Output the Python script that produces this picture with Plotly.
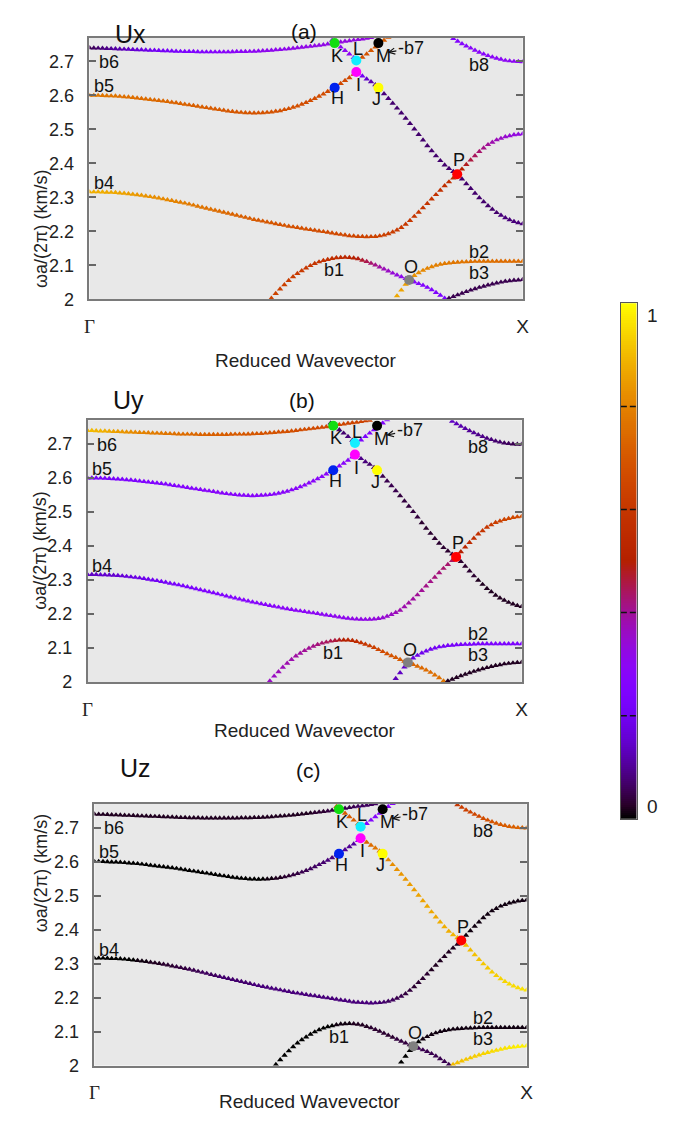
import numpy as np
import plotly.graph_objects as go

# ---------------- data ----------------
# reduced wavevector samples, Gamma (0) -> X (1)
K_GRID = [0.00, 0.01, 0.02, 0.03, 0.04, 0.05, 0.06, 0.07, 0.08, 0.09,
          0.10, 0.11, 0.12, 0.13, 0.14, 0.15, 0.16, 0.17, 0.18, 0.19,
          0.20, 0.21, 0.22, 0.23, 0.24, 0.25, 0.26, 0.27, 0.28, 0.29,
          0.30, 0.31, 0.32, 0.33, 0.34, 0.35, 0.36, 0.37, 0.38, 0.39,
          0.40, 0.41, 0.42, 0.43, 0.44, 0.45, 0.46, 0.47, 0.48, 0.49,
          0.50, 0.51, 0.52, 0.53, 0.54, 0.55, 0.56, 0.57, 0.58, 0.59,
          0.60, 0.61, 0.62, 0.63, 0.64, 0.65, 0.66, 0.67, 0.68, 0.69,
          0.70, 0.71, 0.72, 0.73, 0.74, 0.75, 0.76, 0.77, 0.78, 0.79,
          0.80, 0.81, 0.82, 0.83, 0.84, 0.85, 0.86, 0.87, 0.88, 0.89,
          0.90, 0.91, 0.92, 0.93, 0.94, 0.95, 0.96, 0.97, 0.98, 0.99,
          1.00]

# band b6 (Gamma -> K -> top edge)
B6_START = 0
B6_F = [2.7400, 2.7395, 2.7390, 2.7385, 2.7380, 2.7375, 2.7370, 2.7365, 2.7360, 2.7355,
        2.7350, 2.7345, 2.7340, 2.7335, 2.7330, 2.7325, 2.7320, 2.7315, 2.7310, 2.7305,
        2.7300, 2.7295, 2.7290, 2.7290, 2.7290, 2.7285, 2.7280, 2.7280, 2.7280, 2.7280,
        2.7280, 2.7280, 2.7280, 2.7285, 2.7290, 2.7290, 2.7290, 2.7295, 2.7300, 2.7305,
        2.7310, 2.7320, 2.7330, 2.7340, 2.7350, 2.7360, 2.7370, 2.7385, 2.7400, 2.7415,
        2.7430, 2.7445, 2.7460, 2.7475, 2.7490, 2.7510, 2.7530, 2.7550, 2.7570, 2.7590,
        2.7610, 2.7625, 2.7640, 2.7660, 2.7680, 2.7700]
B6_UX = [0.05, 0.06, 0.07, 0.08, 0.09, 0.10, 0.11, 0.12, 0.13, 0.14,
         0.15, 0.16, 0.17, 0.18, 0.19, 0.20, 0.21, 0.21, 0.22, 0.22,
         0.23, 0.23, 0.24, 0.24, 0.25, 0.25, 0.26, 0.26, 0.27, 0.27,
         0.28, 0.28, 0.28, 0.29, 0.29, 0.29, 0.30, 0.30, 0.30, 0.30,
         0.31, 0.31, 0.31, 0.31, 0.31, 0.31, 0.32, 0.32, 0.32, 0.32,
         0.32, 0.32, 0.32, 0.32, 0.32, 0.32, 0.33, 0.33, 0.33, 0.33,
         0.33, 0.33, 0.33, 0.33, 0.33, 0.33]
B6_UY = [0.90, 0.90, 0.89, 0.89, 0.88, 0.87, 0.86, 0.85, 0.84, 0.83,
         0.82, 0.81, 0.80, 0.80, 0.79, 0.79, 0.78, 0.78, 0.77, 0.77,
         0.76, 0.76, 0.75, 0.75, 0.74, 0.74, 0.73, 0.73, 0.72, 0.72,
         0.72, 0.72, 0.71, 0.71, 0.71, 0.71, 0.70, 0.70, 0.70, 0.70,
         0.69, 0.69, 0.69, 0.69, 0.68, 0.68, 0.68, 0.68, 0.67, 0.67,
         0.67, 0.67, 0.66, 0.66, 0.66, 0.66, 0.65, 0.65, 0.65, 0.65,
         0.64, 0.64, 0.64, 0.64, 0.63, 0.63]
B6_UZ = [0.02, 0.02, 0.02, 0.02, 0.02, 0.02, 0.02, 0.02, 0.02, 0.02,
         0.02, 0.02, 0.02, 0.02, 0.02, 0.02, 0.02, 0.02, 0.02, 0.02,
         0.02, 0.02, 0.02, 0.02, 0.02, 0.02, 0.02, 0.02, 0.02, 0.02,
         0.02, 0.02, 0.02, 0.02, 0.02, 0.02, 0.02, 0.02, 0.02, 0.02,
         0.02, 0.02, 0.02, 0.02, 0.02, 0.02, 0.02, 0.02, 0.02, 0.02,
         0.02, 0.03, 0.03, 0.03, 0.04, 0.04, 0.04, 0.05, 0.05, 0.05,
         0.05, 0.06, 0.06, 0.06, 0.06, 0.06]

# band b5: Gamma -> H -> I, then down through J and P to X
B5_START = 0
B5_F = [2.6000, 2.6000, 2.6000, 2.5995, 2.5990, 2.5985, 2.5980, 2.5970, 2.5960, 2.5950,
        2.5940, 2.5925, 2.5910, 2.5895, 2.5880, 2.5865, 2.5850, 2.5835, 2.5820, 2.5800,
        2.5780, 2.5760, 2.5740, 2.5720, 2.5700, 2.5680, 2.5660, 2.5640, 2.5620, 2.5600,
        2.5580, 2.5560, 2.5540, 2.5525, 2.5510, 2.5500, 2.5490, 2.5485, 2.5480, 2.5485,
        2.5490, 2.5500, 2.5510, 2.5530, 2.5550, 2.5580, 2.5610, 2.5650, 2.5690, 2.5740,
        2.5790, 2.5850, 2.5910, 2.5975, 2.6040, 2.6115, 2.6190, 2.6270, 2.6350, 2.6435,
        2.6520, 2.6620, 2.6660, 2.6570, 2.6480, 2.6400, 2.6310, 2.6190, 2.6050, 2.5910,
        2.5770, 2.5625, 2.5480, 2.5325, 2.5170, 2.5010, 2.4850, 2.4685, 2.4520, 2.4370,
        2.4220, 2.4080, 2.3950, 2.3850, 2.3760, 2.3660, 2.3540, 2.3400, 2.3260, 2.3120,
        2.2990, 2.2870, 2.2750, 2.2650, 2.2550, 2.2470, 2.2400, 2.2340, 2.2290, 2.2250,
        2.2220]
B5_UX = [0.78, 0.78, 0.78, 0.77, 0.77, 0.77, 0.77, 0.76, 0.76, 0.76,
         0.76, 0.75, 0.75, 0.75, 0.75, 0.74, 0.74, 0.74, 0.74, 0.73,
         0.73, 0.73, 0.73, 0.72, 0.72, 0.72, 0.72, 0.71, 0.71, 0.71,
         0.71, 0.70, 0.70, 0.70, 0.70, 0.70, 0.70, 0.69, 0.69, 0.69,
         0.69, 0.69, 0.69, 0.68, 0.68, 0.68, 0.68, 0.68, 0.68, 0.67,
         0.67, 0.67, 0.67, 0.67, 0.67, 0.66, 0.66, 0.66, 0.66, 0.66,
         0.66, 0.60, 0.35, 0.20, 0.15, 0.12, 0.10, 0.09, 0.08, 0.08,
         0.07, 0.07, 0.07, 0.07, 0.07, 0.07, 0.07, 0.07, 0.07, 0.07,
         0.07, 0.07, 0.07, 0.07, 0.07, 0.07, 0.07, 0.07, 0.07, 0.07,
         0.07, 0.07, 0.07, 0.07, 0.07, 0.08, 0.08, 0.08, 0.08, 0.08,
         0.08]
B5_UY = [0.22, 0.22, 0.22, 0.22, 0.23, 0.23, 0.23, 0.23, 0.24, 0.24,
         0.24, 0.24, 0.25, 0.25, 0.25, 0.25, 0.26, 0.26, 0.26, 0.26,
         0.26, 0.27, 0.27, 0.27, 0.27, 0.27, 0.27, 0.28, 0.28, 0.28,
         0.28, 0.28, 0.28, 0.28, 0.28, 0.28, 0.28, 0.28, 0.28, 0.28,
         0.28, 0.28, 0.28, 0.28, 0.28, 0.28, 0.28, 0.28, 0.28, 0.28,
         0.28, 0.28, 0.28, 0.28, 0.28, 0.28, 0.28, 0.28, 0.28, 0.28,
         0.28, 0.25, 0.12, 0.09, 0.08, 0.07, 0.06, 0.06, 0.05, 0.05,
         0.05, 0.05, 0.04, 0.04, 0.04, 0.04, 0.04, 0.03, 0.03, 0.03,
         0.03, 0.03, 0.03, 0.03, 0.03, 0.03, 0.03, 0.03, 0.03, 0.03,
         0.02, 0.02, 0.02, 0.02, 0.02, 0.02, 0.02, 0.02, 0.02, 0.02,
         0.02]
B5_UZ = [0.00, 0.00, 0.00, 0.00, 0.00, 0.00, 0.00, 0.00, 0.00, 0.00,
         0.00, 0.00, 0.00, 0.00, 0.00, 0.00, 0.00, 0.00, 0.00, 0.00,
         0.00, 0.00, 0.00, 0.00, 0.00, 0.00, 0.00, 0.00, 0.00, 0.00,
         0.00, 0.00, 0.00, 0.00, 0.00, 0.00, 0.00, 0.00, 0.00, 0.00,
         0.01, 0.01, 0.02, 0.02, 0.03, 0.03, 0.04, 0.04, 0.05, 0.05,
         0.06, 0.06, 0.07, 0.07, 0.08, 0.08, 0.09, 0.09, 0.10, 0.10,
         0.11, 0.30, 0.70, 0.73, 0.75, 0.77, 0.79, 0.80, 0.81, 0.82,
         0.83, 0.84, 0.84, 0.85, 0.85, 0.86, 0.86, 0.87, 0.87, 0.87,
         0.88, 0.88, 0.88, 0.89, 0.89, 0.89, 0.90, 0.90, 0.91, 0.91,
         0.92, 0.92, 0.93, 0.93, 0.94, 0.94, 0.95, 0.95, 0.95, 0.96,
         0.96]

# band b4: Gamma -> minimum -> up through P to X
B4_START = 0
B4_F = [2.3160, 2.3160, 2.3160, 2.3155, 2.3150, 2.3145, 2.3140, 2.3130, 2.3120, 2.3105,
        2.3090, 2.3075, 2.3060, 2.3040, 2.3020, 2.3000, 2.2980, 2.2955, 2.2930, 2.2905,
        2.2880, 2.2855, 2.2830, 2.2800, 2.2770, 2.2740, 2.2710, 2.2680, 2.2650, 2.2620,
        2.2590, 2.2560, 2.2530, 2.2500, 2.2470, 2.2440, 2.2410, 2.2380, 2.2350, 2.2325,
        2.2300, 2.2275, 2.2250, 2.2225, 2.2200, 2.2175, 2.2150, 2.2130, 2.2110, 2.2090,
        2.2070, 2.2050, 2.2030, 2.2010, 2.1990, 2.1970, 2.1950, 2.1930, 2.1910, 2.1890,
        2.1870, 2.1860, 2.1850, 2.1845, 2.1840, 2.1843, 2.1850, 2.1865, 2.1890, 2.1930,
        2.1980, 2.2040, 2.2110, 2.2210, 2.2320, 2.2440, 2.2560, 2.2690, 2.2820, 2.2950,
        2.3080, 2.3210, 2.3340, 2.3455, 2.3570, 2.3700, 2.3830, 2.3965, 2.4100, 2.4225,
        2.4350, 2.4450, 2.4550, 2.4620, 2.4690, 2.4735, 2.4780, 2.4810, 2.4840, 2.4855,
        2.4870]
B4_UX = [0.88, 0.88, 0.88, 0.88, 0.87, 0.87, 0.87, 0.86, 0.86, 0.85,
         0.85, 0.84, 0.84, 0.83, 0.83, 0.82, 0.82, 0.81, 0.81, 0.80,
         0.80, 0.79, 0.79, 0.78, 0.78, 0.77, 0.77, 0.76, 0.76, 0.75,
         0.75, 0.74, 0.74, 0.73, 0.73, 0.72, 0.72, 0.71, 0.71, 0.70,
         0.70, 0.70, 0.70, 0.69, 0.69, 0.69, 0.69, 0.68, 0.68, 0.68,
         0.68, 0.67, 0.67, 0.67, 0.67, 0.66, 0.66, 0.66, 0.66, 0.65,
         0.65, 0.65, 0.65, 0.64, 0.64, 0.64, 0.64, 0.63, 0.63, 0.62,
         0.62, 0.61, 0.61, 0.60, 0.60, 0.60, 0.60, 0.59, 0.59, 0.59,
         0.58, 0.58, 0.57, 0.57, 0.56, 0.53, 0.50, 0.48, 0.46, 0.44,
         0.43, 0.41, 0.40, 0.38, 0.37, 0.36, 0.35, 0.34, 0.33, 0.33,
         0.32]
B4_UY = [0.14, 0.14, 0.14, 0.15, 0.15, 0.15, 0.15, 0.16, 0.16, 0.17,
         0.17, 0.18, 0.18, 0.19, 0.19, 0.20, 0.20, 0.21, 0.21, 0.22,
         0.22, 0.23, 0.23, 0.23, 0.23, 0.24, 0.24, 0.25, 0.25, 0.25,
         0.25, 0.26, 0.26, 0.26, 0.26, 0.27, 0.27, 0.27, 0.27, 0.28,
         0.28, 0.28, 0.28, 0.28, 0.28, 0.29, 0.29, 0.29, 0.29, 0.29,
         0.29, 0.30, 0.30, 0.30, 0.30, 0.30, 0.30, 0.31, 0.31, 0.31,
         0.31, 0.32, 0.32, 0.32, 0.32, 0.33, 0.33, 0.34, 0.34, 0.35,
         0.36, 0.37, 0.38, 0.38, 0.39, 0.39, 0.40, 0.40, 0.41, 0.41,
         0.42, 0.42, 0.43, 0.43, 0.44, 0.47, 0.50, 0.53, 0.55, 0.57,
         0.58, 0.59, 0.60, 0.61, 0.62, 0.63, 0.64, 0.65, 0.66, 0.66,
         0.67]
B4_UZ = [0.00, 0.00, 0.00, 0.00, 0.00, 0.00, 0.00, 0.00, 0.00, 0.00,
         0.01, 0.01, 0.01, 0.02, 0.02, 0.02, 0.03, 0.03, 0.03, 0.04,
         0.04, 0.04, 0.05, 0.05, 0.05, 0.06, 0.06, 0.06, 0.06, 0.07,
         0.07, 0.07, 0.07, 0.07, 0.07, 0.07, 0.07, 0.08, 0.08, 0.08,
         0.08, 0.08, 0.08, 0.08, 0.08, 0.08, 0.08, 0.08, 0.08, 0.08,
         0.08, 0.08, 0.08, 0.08, 0.08, 0.08, 0.08, 0.08, 0.08, 0.08,
         0.08, 0.08, 0.08, 0.08, 0.08, 0.08, 0.07, 0.07, 0.06, 0.06,
         0.05, 0.05, 0.04, 0.04, 0.03, 0.03, 0.03, 0.03, 0.02, 0.02,
         0.02, 0.02, 0.02, 0.02, 0.02, 0.01, 0.01, 0.01, 0.01, 0.01,
         0.01, 0.01, 0.01, 0.01, 0.01, 0.01, 0.01, 0.01, 0.01, 0.01,
         0.01]

# b6/b7 branch through K, L and M
B7_START = 56
B7_F = [2.762, 2.752, 2.742, 2.732, 2.722, 2.711, 2.705, 2.712, 2.722, 2.732,
        2.742, 2.752, 2.762, 2.771]
B7_UX = [0.30, 0.30, 0.30, 0.30, 0.30, 0.30, 0.50, 0.68, 0.69, 0.70,
         0.70, 0.71, 0.71, 0.71]
B7_UY = [0.06, 0.06, 0.07, 0.07, 0.08, 0.08, 0.15, 0.24, 0.24, 0.25,
         0.25, 0.26, 0.26, 0.26]
B7_UZ = [0.70, 0.70, 0.71, 0.71, 0.72, 0.72, 0.45, 0.26, 0.26, 0.27,
         0.27, 0.28, 0.28, 0.28]

# band b1
B1_START = 42
B1_F = [2.0030, 2.0170, 2.0300, 2.0430, 2.0550, 2.0660, 2.0760, 2.0840, 2.0920, 2.0990,
        2.1050, 2.1100, 2.1140, 2.1170, 2.1200, 2.1220, 2.1230, 2.1235, 2.1230, 2.1215,
        2.1190, 2.1150, 2.1110, 2.1060, 2.1010, 2.0950, 2.0890, 2.0830, 2.0770, 2.0715,
        2.0660, 2.0610, 2.0560, 2.0510, 2.0460, 2.0410, 2.0350, 2.0280, 2.0200, 2.0120,
        2.0030]
B1_UX = [0.64, 0.64, 0.63, 0.63, 0.62, 0.62, 0.61, 0.61, 0.60, 0.60,
         0.59, 0.59, 0.58, 0.58, 0.57, 0.56, 0.55, 0.54, 0.52, 0.51,
         0.49, 0.47, 0.45, 0.43, 0.41, 0.39, 0.37, 0.36, 0.34, 0.33,
         0.31, 0.30, 0.28, 0.27, 0.26, 0.26, 0.25, 0.25, 0.24, 0.24,
         0.23]
B1_UY = [0.36, 0.36, 0.37, 0.37, 0.38, 0.38, 0.39, 0.39, 0.40, 0.40,
         0.41, 0.42, 0.43, 0.44, 0.45, 0.46, 0.48, 0.50, 0.52, 0.54,
         0.56, 0.58, 0.60, 0.62, 0.63, 0.65, 0.66, 0.68, 0.69, 0.70,
         0.71, 0.72, 0.73, 0.73, 0.74, 0.74, 0.75, 0.75, 0.76, 0.76,
         0.77]
B1_UZ = [0.00, 0.00, 0.00, 0.00, 0.00, 0.00, 0.00, 0.00, 0.00, 0.00,
         0.00, 0.00, 0.00, 0.00, 0.01, 0.01, 0.01, 0.01, 0.02, 0.02,
         0.02, 0.02, 0.03, 0.03, 0.03, 0.03, 0.03, 0.03, 0.04, 0.04,
         0.04, 0.04, 0.05, 0.05, 0.05, 0.05, 0.05, 0.05, 0.05, 0.05,
         0.05]

# band b2
B2_START = 71
B2_F = [2.0100, 2.0270, 2.0440, 2.0590, 2.0700, 2.0780, 2.0850, 2.0910, 2.0960, 2.1000,
        2.1030, 2.1050, 2.1070, 2.1080, 2.1090, 2.1100, 2.1105, 2.1110, 2.1115, 2.1120,
        2.1120, 2.1120, 2.1120, 2.1120, 2.1120, 2.1120, 2.1120, 2.1120, 2.1120, 2.1120]
B2_UX = [0.87, 0.86, 0.85, 0.84, 0.83, 0.82, 0.81, 0.80, 0.80, 0.79,
         0.79, 0.78, 0.78, 0.77, 0.77, 0.77, 0.77, 0.76, 0.76, 0.76,
         0.76, 0.76, 0.76, 0.75, 0.75, 0.75, 0.75, 0.75, 0.75, 0.75]
B2_UY = [0.13, 0.14, 0.15, 0.16, 0.17, 0.18, 0.19, 0.19, 0.20, 0.20,
         0.21, 0.21, 0.22, 0.22, 0.22, 0.22, 0.23, 0.23, 0.23, 0.23,
         0.23, 0.23, 0.24, 0.24, 0.24, 0.24, 0.24, 0.24, 0.24, 0.24]
B2_UZ = [0.00, 0.00, 0.00, 0.00, 0.00, 0.01, 0.01, 0.01, 0.01, 0.01,
         0.01, 0.01, 0.01, 0.01, 0.01, 0.01, 0.01, 0.01, 0.01, 0.01,
         0.01, 0.01, 0.01, 0.01, 0.01, 0.01, 0.01, 0.01, 0.01, 0.01]

# band b3
B3_START = 83
B3_F = [2.0030, 2.0080, 2.0130, 2.0180, 2.0225, 2.0270, 2.0310, 2.0350, 2.0385, 2.0420,
        2.0450, 2.0480, 2.0505, 2.0530, 2.0545, 2.0560, 2.0570, 2.0580]
B3_UX = [0.05, 0.05, 0.05, 0.05, 0.05, 0.05, 0.05, 0.05, 0.05, 0.05,
         0.05, 0.05, 0.05, 0.05, 0.05, 0.05, 0.05, 0.05]
B3_UY = [0.02, 0.02, 0.02, 0.02, 0.02, 0.02, 0.02, 0.02, 0.02, 0.02,
         0.02, 0.02, 0.02, 0.02, 0.02, 0.02, 0.02, 0.02]
B3_UZ = [0.90, 0.91, 0.91, 0.92, 0.92, 0.93, 0.93, 0.94, 0.94, 0.95,
         0.95, 0.96, 0.96, 0.97, 0.97, 0.98, 0.98, 0.98]

# band b8
B8_START = 84
B8_F = [2.7670, 2.7595, 2.7520, 2.7455, 2.7390, 2.7330, 2.7270, 2.7220, 2.7170, 2.7130,
        2.7090, 2.7060, 2.7030, 2.7015, 2.7000, 2.6995, 2.6990]
B8_UX = [0.26, 0.26, 0.27, 0.27, 0.28, 0.28, 0.28, 0.28, 0.29, 0.29,
         0.29, 0.29, 0.30, 0.30, 0.30, 0.30, 0.30]
B8_UY = [0.14, 0.13, 0.12, 0.11, 0.10, 0.10, 0.09, 0.09, 0.08, 0.08,
         0.07, 0.07, 0.06, 0.06, 0.05, 0.05, 0.05]
B8_UZ = [0.60, 0.62, 0.63, 0.64, 0.65, 0.66, 0.67, 0.68, 0.69, 0.70,
         0.71, 0.71, 0.72, 0.72, 0.73, 0.73, 0.74]

# highlighted points
POINT_NAMES = ['K', 'L', 'M', 'H', 'I', 'J', 'P', 'O']
POINT_K = [0.566, 0.616, 0.667, 0.566, 0.616, 0.667, 0.849, 0.738]
POINT_F = [2.754, 2.703, 2.754, 2.623, 2.669, 2.623, 2.368, 2.057]
POINT_COLORS = ['#11dd11', '#11eeff', '#000000', '#0022ee', '#ff00ff', '#ffff00', '#ff0000', '#808080']

# text labels inside the panels
LABEL_TEXT = ['K', 'L', 'M', 'H', 'I', 'J', 'P', 'O', 'b1', 'b2', 'b3', 'b4', 'b5', 'b6', 'b8']
LABEL_K = [0.572, 0.620, 0.678, 0.572, 0.620, 0.663, 0.854, 0.742, 0.565, 0.899, 0.899, 0.033, 0.033, 0.045, 0.899]
LABEL_F = [2.717, 2.737, 2.716, 2.591, 2.630, 2.589, 2.409, 2.095, 2.085, 2.140, 2.079, 2.341, 2.627, 2.698, 2.691]
B7_LABEL = '-b7'
B7_LABEL_K, B7_LABEL_F = 0.742, 2.740
B7_ARROW_K, B7_ARROW_F = 0.688, 2.726

PANEL_TITLES = ['Ux', 'Uy', 'Uz']
PANEL_TAGS = ['(a)', '(b)', '(c)']

Y_TICK_VALS = [2.0, 2.1, 2.2, 2.3, 2.4, 2.5, 2.6, 2.7]
Y_TICK_TEXT = ['2', '2.1', '2.2', '2.3', '2.4', '2.5', '2.6', '2.7']
X_TICK_VALS = [0, 1]
X_TICK_TEXT = ['<span style="font-family:\'Liberation Serif\'">\u0393</span>', 'X']
Y_TITLE = '\u03c9a/(2\u03c0) (km/s)'
X_TITLE = 'Reduced Wavevector'
CB_TICKS = [0.2, 0.4, 0.6, 0.8]

BANDS = [
    (B6_START, B6_F, [B6_UX, B6_UY, B6_UZ]),
    (B5_START, B5_F, [B5_UX, B5_UY, B5_UZ]),
    (B4_START, B4_F, [B4_UX, B4_UY, B4_UZ]),
    (B7_START, B7_F, [B7_UX, B7_UY, B7_UZ]),
    (B1_START, B1_F, [B1_UX, B1_UY, B1_UZ]),
    (B2_START, B2_F, [B2_UX, B2_UY, B2_UZ]),
    (B3_START, B3_F, [B3_UX, B3_UY, B3_UZ]),
    (B8_START, B8_F, [B8_UX, B8_UY, B8_UZ]),
]

# ---------------- styling / layout ----------------
W, H = 675, 1140
PANEL_X = [(86, 527), (84, 526), (91, 531)]
PANEL_Y = [(38, 302), (424, 688), (811, 1075)]
CB_X = (627, 643)
CB_Y = (306, 826)
FONT = 'Liberation Sans'


def gnuplot_rgb(v):
    r = np.sqrt(v)
    g = v ** 3
    b = max(0.0, np.sin(2 * np.pi * v))
    return 'rgb(%d,%d,%d)' % (round(255 * r), round(255 * g), round(255 * b))


CS = [[float(v), gnuplot_rgb(float(v))] for v in np.linspace(0, 1, 41)]

fig = go.Figure()
annotations = []
shapes = []
layout = {}

for p in range(3):
    sfx = '' if p == 0 else str(p + 1)
    xa, ya = 'x' + sfx, 'y' + sfx
    for start, freqs, comps in BANDS:
        ks = K_GRID[start:start + len(freqs)]
        fig.add_trace(go.Scatter(
            x=ks, y=freqs, mode='markers', xaxis=xa, yaxis=ya,
            marker=dict(symbol='triangle-up', size=5.6, color=comps[p], colorscale=CS,
                        cmin=0, cmax=1, line=dict(width=0)),
            showlegend=False, hoverinfo='skip'))
    fig.add_trace(go.Scatter(
        x=POINT_K, y=POINT_F, mode='markers', xaxis=xa, yaxis=ya,
        marker=dict(symbol='circle', size=10, color=POINT_COLORS, line=dict(width=0)),
        showlegend=False, hoverinfo='skip'))

    x0, x1 = PANEL_X[p]
    y0, y1 = PANEL_Y[p]
    layout['xaxis' + sfx] = dict(
        domain=[x0 / W, x1 / W], anchor=ya, range=[0, 1],
        tickvals=X_TICK_VALS, ticktext=X_TICK_TEXT, ticks='inside', ticklen=7,
        tickwidth=1.5, tickcolor='#666666', mirror='ticks', showline=True,
        linecolor='#7a7a7a', linewidth=1.5, showgrid=False, zeroline=False,
        tickfont=dict(family=FONT, size=19, color='#222222'), ticklabelstandoff=9)
    layout['yaxis' + sfx] = dict(
        domain=[1 - y1 / H, 1 - y0 / H], anchor=xa, range=[2.0, 2.77],
        tickvals=Y_TICK_VALS, ticktext=Y_TICK_TEXT, ticks='inside', ticklen=7,
        tickwidth=1.5, tickcolor='#666666', mirror='ticks', showline=True,
        linecolor='#7a7a7a', linewidth=1.5, showgrid=False, zeroline=False,
        tickfont=dict(family=FONT, size=18, color='#222222'), ticklabelstandoff=10)

    for t, kx, fy in zip(LABEL_TEXT, LABEL_K, LABEL_F):
        annotations.append(dict(x=kx, y=fy, xref=xa, yref=ya, text=t, showarrow=False,
                                font=dict(family=FONT, size=18, color='#111111')))
    annotations.append(dict(x=B7_ARROW_K, y=B7_ARROW_F, xref=xa, yref=ya,
                            ax=B7_LABEL_K, ay=B7_LABEL_F, axref=xa, ayref=ya,
                            text=B7_LABEL, showarrow=True, arrowhead=5, arrowsize=1,
                            arrowwidth=1.2, arrowcolor='#111111', standoff=0,
                            font=dict(family=FONT, size=18, color='#111111')))

    cx = (x0 + x1) / 2
    annotations.append(dict(x=(x0 + 24) / W, y=1 - (y0 - 20) / H, xref='paper', yref='paper',
                            text=PANEL_TITLES[p], showarrow=False,
                            font=dict(family=FONT, size=25, color='#111111')))
    annotations.append(dict(x=(x0 + 218) / W, y=1 - (y0 - 20) / H, xref='paper', yref='paper',
                            text=PANEL_TAGS[p], showarrow=False,
                            font=dict(family=FONT, size=21, color='#111111')))
    annotations.append(dict(x=cx / W, y=1 - (y1 + 49) / H, xref='paper', yref='paper',
                            text=X_TITLE, showarrow=False,
                            font=dict(family=FONT, size=19, color='#222222')))
    annotations.append(dict(x=24 / W, y=1 - ((y0 + y1) / 2) / H, xref='paper', yref='paper',
                            text=Y_TITLE, showarrow=False, textangle=-90,
                            font=dict(family=FONT, size=18, color='#222222')))

# colour bar drawn as a heatmap on its own axes
CB_LEVELS = np.linspace(0, 1, 256)
fig.add_trace(go.Heatmap(z=[[float(v)] for v in CB_LEVELS], x=[0], y=CB_LEVELS,
                         colorscale=CS, zmin=0, zmax=1, showscale=False,
                         xaxis='x4', yaxis='y4', hoverinfo='skip'))
layout['xaxis4'] = dict(domain=[CB_X[0] / W, CB_X[1] / W], anchor='y4', range=[-0.5, 0.5],
                        showticklabels=False, ticks='', showgrid=False, zeroline=False,
                        showline=True, mirror=True, linecolor='#555555', linewidth=1)
layout['yaxis4'] = dict(domain=[1 - CB_Y[1] / H, 1 - CB_Y[0] / H], anchor='x4', range=[0, 1],
                        showticklabels=False, ticks='', showgrid=False, zeroline=False,
                        showline=True, mirror=True, linecolor='#555555', linewidth=1)
for v in CB_TICKS:
    shapes.append(dict(type='line', xref='x4', yref='y4', x0=-0.5, x1=0.5, y0=v, y1=v,
                       line=dict(color='#111111', width=1.5, dash='6px,3px'), layer='above'))
annotations.append(dict(x=652 / W, y=1 - CB_Y[0] / H, xref='paper', yref='paper', text='1',
                        xanchor='left', showarrow=False,
                        font=dict(family=FONT, size=19, color='#222222')))
annotations.append(dict(x=652 / W, y=1 - CB_Y[1] / H, xref='paper', yref='paper', text='0',
                        xanchor='left', showarrow=False,
                        font=dict(family=FONT, size=19, color='#222222')))

fig.update_layout(**layout)
fig.update_layout(width=W, height=H, margin=dict(l=0, r=0, t=0, b=0),
                  paper_bgcolor='white', plot_bgcolor='#e8e8e8',
                  annotations=annotations, shapes=shapes, hovermode=False,
                  showlegend=False)
fig.write_html('out.html')
